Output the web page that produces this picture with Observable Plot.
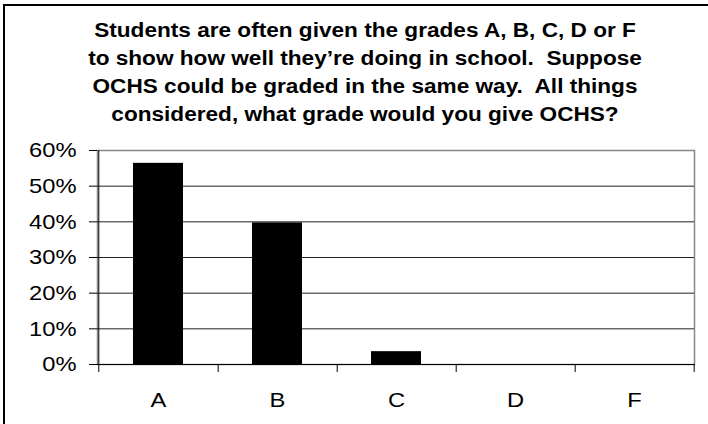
<!DOCTYPE html>
<html><head><meta charset="utf-8">
<script src="https://cdn.jsdelivr.net/npm/d3@7"></script>
<script src="https://cdn.jsdelivr.net/npm/@observablehq/plot@0.6"></script>
<style>
html,body{margin:0;padding:0;background:#fff;overflow:hidden;width:708px;height:424px}
#wrap{position:relative;width:708px;height:424px;font-family:"Liberation Sans",Arial,sans-serif;overflow:hidden}
#border{position:absolute;left:3px;top:4px;width:800px;height:500px;border-left:2px solid #000;border-top:2px solid #000;box-sizing:border-box}
#title{position:absolute;left:0;top:16px;width:730px;text-align:center;font-weight:bold;font-size:20px;line-height:28px;color:#000;transform:scaleX(1.13);transform-origin:365px 0;white-space:pre}
#chart{position:absolute;left:0;top:130px}
</style></head>
<body><div id="wrap"><div id="border"></div><div id="title"></div><div id="chart"></div></div>
<script>
const titleLines = [
  "Students are often given the grades A, B, C, D or F",
  "to show how well they\u2019re doing in school.  Suppose",
  "OCHS could be graded in the same way.  All things",
  "considered, what grade would you give OCHS?"
];
const grades = ["A", "B", "C", "D", "F"];
const percents = [0.564, 0.397, 0.036, 0, 0];
const yTicks = [0, 0.1, 0.2, 0.3, 0.4, 0.5, 0.6];

document.getElementById("title").textContent = titleLines.join("\n");

const W = 708, H = 294, mL = 97, mR = 14, mT = 20, mB = 60;
const step = (W - mL - mR) / grades.length;
const plotH = H - mT - mB;
const yMax = yTicks[yTicks.length - 1];
const data = grades.map((g, i) => ({grade: g, pct: percents[i]}));

const chart = Plot.plot({
  width: W, height: H,
  marginLeft: mL, marginRight: mR, marginTop: mT, marginBottom: mB,
  style: {fontFamily: "'Liberation Sans', Arial, sans-serif", fontSize: "21px", color: "#000", background: "transparent"},
  x: {type: "band", domain: grades, paddingInner: 0.58, paddingOuter: 0.29},
  y: {domain: [0, yMax]},
  marks: [
    Plot.frame({stroke: "#888", strokeWidth: 1.5}),
    Plot.ruleY(yTicks.filter(d => d > 0 && d < yMax), {stroke: "#222"}),
    Plot.barY(data, {x: "grade", y: "pct", fill: "#000"}),
    Plot.ruleY([0], {stroke: "#000"}),
    Plot.ruleX([grades[0]], {dx: -step / 2, stroke: "#000", insetBottom: -8}),
    Plot.ruleX(grades, {dx: step / 2, stroke: "#000", insetTop: plotH, insetBottom: -8}),
    Plot.axisY({ticks: yTicks, tickFormat: d3.format(".0%"), tickSize: 8, tickPadding: 13, fontSize: 21, label: null}),
    Plot.axisX({tickSize: 0, tickPadding: 28, fontSize: 21, label: null})
  ]
});
document.getElementById("chart").append(chart);
const stretch = 1.13;
chart.querySelectorAll("text").forEach(t => {
  const len = t.getComputedTextLength();
  t.setAttribute("textLength", len * stretch);
  t.setAttribute("lengthAdjust", "spacingAndGlyphs");
});
</script>
</body></html>
